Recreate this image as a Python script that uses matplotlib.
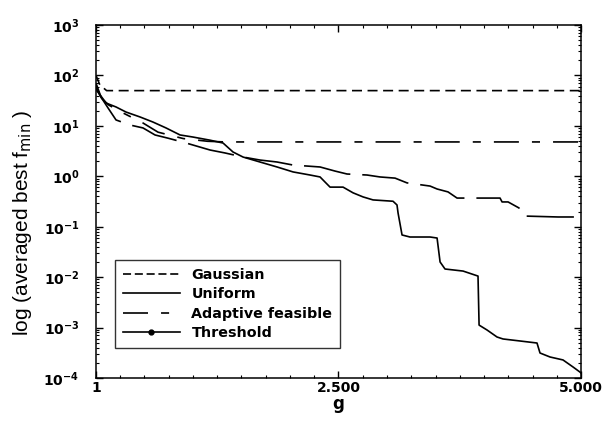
import matplotlib
matplotlib.use("Agg")
import matplotlib.pyplot as plt
from matplotlib.lines import Line2D
from matplotlib.ticker import FixedLocator, MultipleLocator, NullFormatter, FuncFormatter
import math

plt.rcParams['lines.scale_dashes'] = False

# ---- data ----
gauss_g = [1, 40, 110, 5000]
gauss_v = [100, 65, 50, 50]

uniform_g = [1, 21, 104, 207, 310, 455, 588, 722, 867, 1001, 1176, 1310, 1413, 1516, 1691,
             1867, 2032, 2207, 2310, 2361, 2413, 2547, 2650, 2753, 2856, 3062, 3103, 3114,
             3155, 3237, 3444, 3516, 3547, 3598, 3784, 3938, 3949, 4031, 4134, 4196, 4371,
             4546, 4577, 4680, 4814, 4918, 4989, 5000]
uniform_v = [65, 47, 28.4, 23.7, 18.8, 15, 11.9, 9.1, 6.6, 6.0, 5.2, 4.57, 3.03, 2.41, 1.92,
             1.53, 1.22, 1.06, 0.97, 0.77, 0.61, 0.61, 0.47, 0.39, 0.34, 0.32, 0.27, 0.187,
             0.0686, 0.0625, 0.0625, 0.0597, 0.02, 0.0145, 0.0132, 0.0105, 0.00112, 0.000895,
             0.00065, 0.000594, 0.000542, 0.000494, 0.000313, 0.000261, 0.000228, 0.000165,
             0.000131, 0.000125]

adapt_g = [1, 60, 130, 280, 485, 640, 900, 1150, 1330, 5000]
adapt_v = [55, 35, 26, 18, 11.4, 7.5, 5.6, 4.95, 4.8, 4.8]

thr_g = [1, 53, 125, 207, 351, 485, 609, 743, 929, 1176, 1331, 1516, 1691, 1867, 2032, 2310,
         2464, 2588, 2794, 2928, 3083, 3206, 3444, 3516, 3629, 3722, 4165, 4186, 4248, 4361,
         4402, 4763, 5000]
thr_v = [70, 37, 22.6, 13.1, 10.4, 9.1, 6.6, 5.7, 4.57, 3.32, 2.9, 2.41, 2.1, 1.92, 1.67, 1.53,
         1.27, 1.11, 1.06, 0.97, 0.92, 0.74, 0.64, 0.56, 0.49, 0.37, 0.37, 0.31, 0.31, 0.235,
         0.163, 0.156, 0.156]

labels = ["Gaussian", "Uniform", "Adaptive feasible", "Threshold"]
x_ticks = [1, 2500, 5000]
x_ticklabels = ["1", "2.500", "5.000"]
y_exponents = [-4, -3, -2, -1, 0, 1, 2, 3]

# ---- figure ----
fig = plt.figure(figsize=(6.04, 4.24), dpi=100)
ax = fig.add_axes([0.159, 0.1085, 0.803, 0.8325])

lw = 1.2
ax.plot(gauss_g, gauss_v, color='k', lw=lw, dashes=(7.2, 4.0))
ax.plot(uniform_g, uniform_v, color='k', lw=lw)
ax.plot(adapt_g, adapt_v, color='k', lw=lw, dashes=(18, 9.4, 5.8, 9.4))
ax.plot(thr_g, thr_v, color='k', lw=lw, dashes=(34, 8.6))

ax.set_yscale('log')
ax.set_xlim(1, 5000)
ax.set_ylim(1e-4, 1e3)

ax.xaxis.set_major_locator(FixedLocator(x_ticks))
ax.set_xticklabels(x_ticklabels)
ax.xaxis.set_minor_locator(MultipleLocator(250))
ax.xaxis.set_minor_formatter(NullFormatter())

y_major = [10.0 ** e for e in y_exponents]
y_minor = [m * 10.0 ** e for e in y_exponents[:-1] for m in range(2, 10)]
ax.yaxis.set_major_locator(FixedLocator(y_major))
ax.yaxis.set_minor_locator(FixedLocator(y_minor))
ax.yaxis.set_minor_formatter(NullFormatter())

def yfmt(v, pos):
    e = int(round(math.log10(v)))
    return r'$\mathbf{10^{%d}}$' % e
ax.yaxis.set_major_formatter(FuncFormatter(yfmt))

ax.tick_params(which='both', direction='in', top=True, right=True, color='k')
ax.tick_params(which='major', length=5, width=1.0)
ax.tick_params(which='minor', length=2.5, width=0.8)
ax.tick_params(axis='x', which='major', pad=2, labelsize=10)
ax.tick_params(axis='y', which='major', pad=12, labelsize=10)
for lab in ax.get_xticklabels():
    lab.set_fontweight('bold')

for sp in ax.spines.values():
    sp.set_linewidth(1.1)

ax.set_xlabel('g', fontsize=12, fontweight='bold', labelpad=0)
ax.set_ylabel(r'log (averaged best f$_{\mathrm{min}}$ )', fontsize=15,
              family='Liberation Sans')
ax.yaxis.set_label_coords(-0.128, 0.44)

handles = [
    Line2D([], [], color='k', lw=lw, dashes=(5.8, 2.7)),
    Line2D([], [], color='k', lw=lw),
    Line2D([], [], color='k', lw=lw, dashes=(18, 9.4, 5.8, 9.4)),
    Line2D([], [], color='k', lw=lw, marker='o', markersize=3.5),
]
leg = ax.legend(handles, labels, loc='lower left', bbox_to_anchor=(0.039, 0.085),
                frameon=True, fancybox=False, handlelength=4.0, handletextpad=0.8,
                labelspacing=0.38, borderpad=0.55, borderaxespad=0, numpoints=1,
                prop={'weight': 'bold', 'size': 10.3})
leg.get_frame().set_edgecolor('k')
leg.get_frame().set_linewidth(1.0)

fig.savefig('out.png', dpi=100)
